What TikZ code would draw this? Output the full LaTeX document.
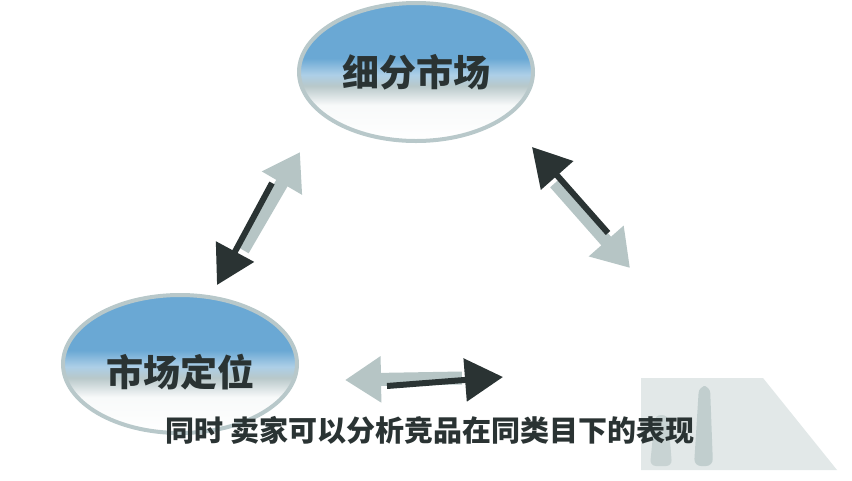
\documentclass[tikz,border=0pt]{standalone}
\usepackage{fontspec}
\newfontfamily\cjk{Noto Sans CJK SC}
\definecolor{ovblue}{RGB}{106,168,212}
\definecolor{ovrim}{RGB}{184,200,202}
\definecolor{arlight}{RGB}{182,197,197}
\definecolor{ardark}{RGB}{42,51,51}
\usetikzlibrary{arrows.meta,shapes.geometric}
\pgfdeclareverticalshading{ovshade}{100bp}{color(0bp)=(white); color(25bp)=(white); color(38bp)=(white!90!ovrim); color(45bp)=(ovrim); color(49bp)=(ovblue!55!white); color(55bp)=(ovblue); color(100bp)=(ovblue)}

\begin{document}
\begin{tikzpicture}[x=1pt, y=-1pt,
  oval/.style={ellipse, draw=ovrim, line width=4pt, shading=ovshade,
    minimum width=234pt, minimum height=138pt, inner sep=0pt,
    font=\cjk\bfseries\fontsize{37}{37}\selectfont, text=ardark},
  lightarrow/.style={arlight, line width=13pt, -{Triangle[length=36pt,width=44pt]}},
  darkarrow/.style={ardark, line width=6pt, -{Triangle[length=38pt,width=42pt]}}]
  \fill[white] (0,0) rectangle (852,480);
  \useasboundingbox (0,0) rectangle (852,480);

  % Ovals
  \node[oval] (seg) at (416,72) {细分市场};
  \node[oval] (pos) at (180,364) {\raisebox{-22pt}[0pt][0pt]{市场定位}};

  % Left pair
  \coordinate (la) at (243,250);
  \coordinate (lb) at (300,152);
  \coordinate (lc) at (272,183);
  \coordinate (ld) at (217,285);
  \draw[lightarrow] (la) -- (lb);
  \draw[darkarrow] (lc) -- (ld);

  % Right pair
  \coordinate (ra) at (555,183);
  \coordinate (rb) at (630,268);
  \coordinate (rc) at (608,233);
  \coordinate (rd) at (532,147);
  \draw[lightarrow] (ra) -- (rb);
  \draw[darkarrow] (rc) -- (rd);

  % Bottom pair
  \coordinate (ba) at (462,378);
  \coordinate (bb) at (345,380);
  \coordinate (bc) at (387,386);
  \coordinate (bd) at (503,377);
  \draw[lightarrow] (ba) -- (bb);
  \draw[darkarrow] (bc) -- (bd);

  % Faded shape, bottom right
  \fill[arlight!40] (641,378) -- (763,378) -- (837,470) -- (641,470) -- cycle;
  \fill[arlight!85, rounded corners=7pt] (699,386) -- (710,386) -- (713,466) -- (694,466) -- cycle;
  \fill[arlight!75, rounded corners=6pt] (655,415) -- (668,415) -- (672,466) -- (650,466) -- cycle;

  % Subtitle
  \node[font=\cjk\bfseries\fontsize{29}{29}\selectfont, text=ardark] (sub) at (430,430)
    {同时 卖家可以分析竞品在同类目下的表现};
\end{tikzpicture}
\end{document}
